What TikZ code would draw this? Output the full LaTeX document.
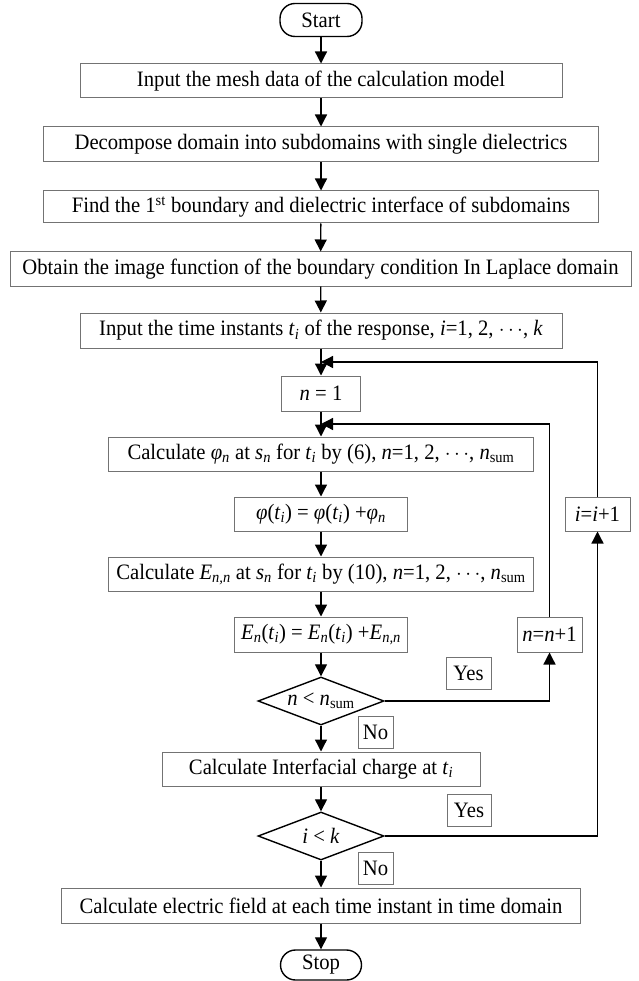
\documentclass[tikz,border=0pt]{standalone}
\usepackage{fontspec}
\setmainfont{Liberation Serif}[FakeStretch=0.94]
\usetikzlibrary{shapes.geometric,arrows.meta,calc}
\newcommand\myisub[2]{\textit{#1}\textsubscript{\textit{#2}}}
\begin{document}
\begin{tikzpicture}[x=1pt,y=-1pt,
  font=\fontsize{22}{26}\selectfont,
  box/.style={draw=black!55, line width=1pt, rectangle, inner sep=0pt, align=center},
  term/.style={draw=black, line width=1.4pt, rectangle, rounded corners=15pt, inner sep=0pt},
  dia/.style={draw=black, line width=1.4pt, diamond, inner sep=0pt, minimum width=126pt, minimum height=48pt},
  arr/.style={draw=black, line width=1.3pt, -{Triangle[length=12pt,width=12pt]}},
  lab/.style={draw=black!55, line width=1pt, inner sep=0pt, minimum width=#1, minimum height=32pt}
]
\useasboundingbox (0,0) rectangle (638,981);
\node[term, minimum width=82pt, minimum height=33pt] (start) at (321,20) {Start};
\node[box, minimum width=482pt, minimum height=34pt] (b1) at (321,81) {Input the mesh data of the calculation model};
\node[box, minimum width=555pt, minimum height=35pt] (b2) at (321,144.5) {Decompose domain into subdomains with single dielectrics};
\node[box, minimum width=555pt, minimum height=32pt] (b3) at (321,207) {Find the 1\textsuperscript{st} boundary and dielectric interface of subdomains};
\node[box, minimum width=621pt, minimum height=34pt] (b4) at (320.5,269) {Obtain the image function of the boundary condition In Laplace domain};
\node[box, minimum width=482pt, minimum height=35pt] (b5) at (321,330.5) {Input the time instants \myisub{t}{i} of the response, \textit{i}=1, 2, $\cdots$, \textit{k}};
\node[box, minimum width=79pt, minimum height=35pt] (n1) at (321,393.5) {\textit{n} = 1};
\node[box, minimum width=425pt, minimum height=34pt] (phi) at (321,454) {Calculate \myisub{φ}{n} at \myisub{s}{n} for \myisub{t}{i} by (6), \textit{n}=1, 2, $\cdots$, \textit{n}\textsubscript{sum}};
\node[box, minimum width=173pt, minimum height=34pt] (phieq) at (321,514) {\textit{φ}(\myisub{t}{i}) = \textit{φ}(\myisub{t}{i}) +\myisub{φ}{n}};
\node[box, minimum width=425pt, minimum height=34pt] (calcE) at (321,574) {Calculate \myisub{E}{n,n} at \myisub{s}{n} for \myisub{t}{i} by (10), \textit{n}=1, 2, $\cdots$, \textit{n}\textsubscript{sum}};
\node[box, minimum width=173pt, minimum height=35pt] (Eeq) at (321,634.5) {\myisub{E}{n}(\myisub{t}{i}) = \myisub{E}{n}(\myisub{t}{i}) +\myisub{E}{n,n}};
\node[dia] (d1) at (321,701) {};
\node (d1t) at (d1) {\textit{n} < \textit{n}\textsubscript{sum}};
\node[box, minimum width=318pt, minimum height=34pt] (calcI) at (321,769) {Calculate Interfacial charge at \myisub{t}{i}};
\node[dia] (d2) at (321,836) {};
\node (d2t) at (d2) {\textit{i} < \textit{k}};
\node[box, minimum width=519pt, minimum height=35pt] (field) at (321,905.5) {Calculate electric field at each time instant in time domain};
\node[term, minimum width=81pt, minimum height=30pt] (stop) at (321,965) {Stop};
\node[box, minimum width=65pt, minimum height=34pt] (ii) at (597.5,514) {\textit{i}=\textit{i}+1};
\node[box, minimum width=65pt, minimum height=35pt] (nn) at (549.5,634.5) {\textit{n}=\textit{n}+1};
\node[lab=45pt] (yes1) at (468.5,673) {Yes};
\node[lab=35pt] (no1) at (375.5,732) {No};
\node[lab=44pt] (yes2) at (469,810) {Yes};
\node[lab=35pt] (no2) at (375.5,868) {No};
\coordinate (j1) at ($(b5.south)!0.5!(n1.north)$);
\coordinate (j2) at ($(n1.south)!0.5!(phi.north)$);
\draw[arr] (start) -- (b1);
\draw[arr] (b1) -- (b2);
\draw[arr] (b2) -- (b3);
\draw[arr] (b3) -- (b4);
\draw[arr] (b4) -- (b5);
\draw[arr] (b5) -- (n1);
\draw[arr] (n1) -- (phi);
\draw[arr] (phi) -- (phieq);
\draw[arr] (phieq) -- (calcE);
\draw[arr] (calcE) -- (Eeq);
\draw[arr] (Eeq) -- (d1);
\draw[arr] (d1) -- (calcI);
\draw[arr] (calcI) -- (d2);
\draw[arr] (d2) -- (field);
\draw[arr] (field) -- (stop);
\draw[arr] (d1.east) -| (nn.south);
\draw[arr] (nn.north) |- (j2);
\draw[arr] (d2.east) -| (ii.south);
\draw[arr] (ii.north) |- (j1);
\end{tikzpicture}
\end{document}
